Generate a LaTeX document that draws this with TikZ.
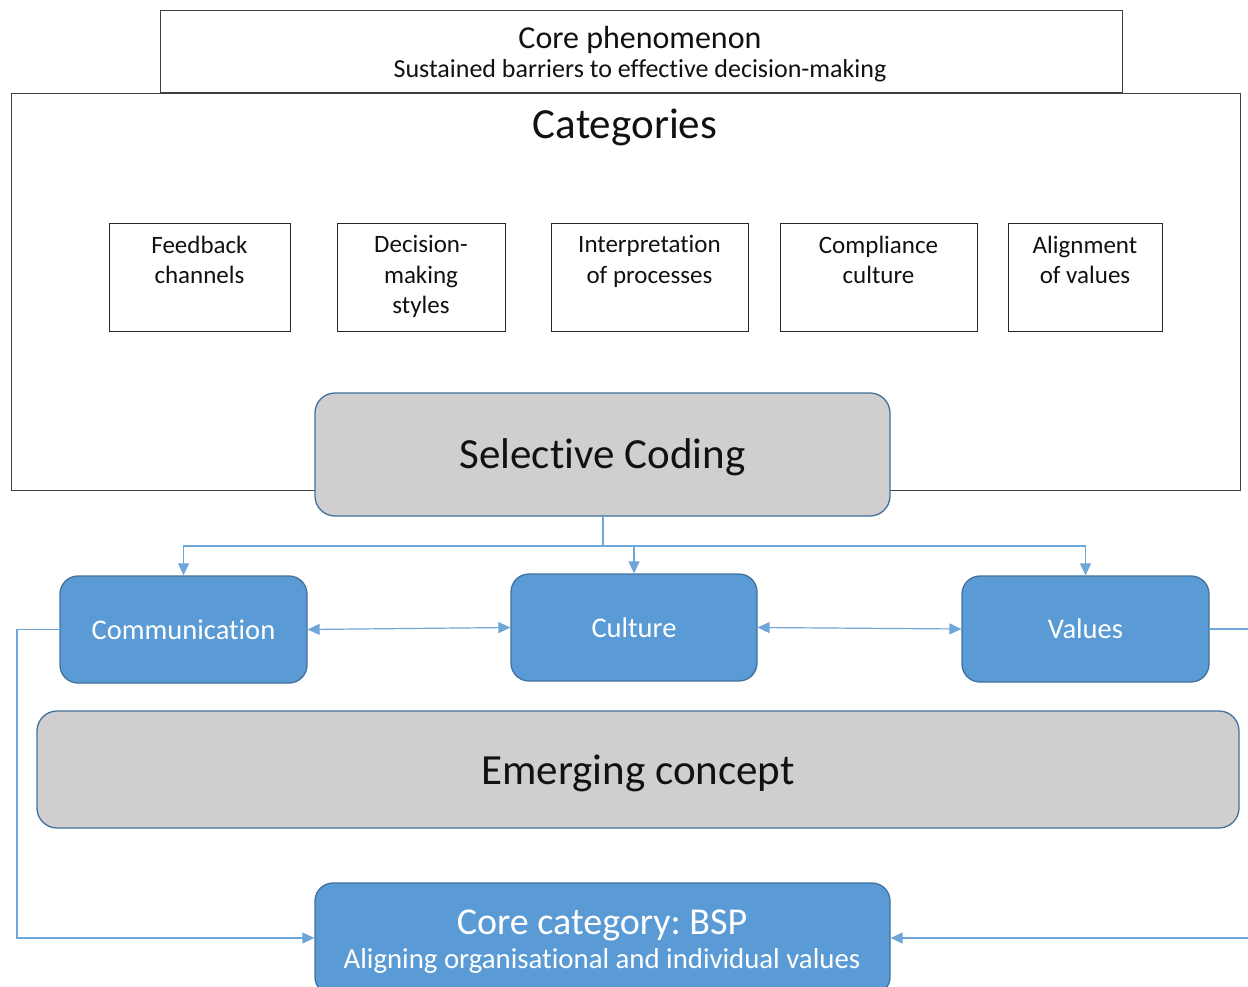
\documentclass[tikz,border=0pt]{standalone}
\usepackage{fontspec}
\setmainfont{Carlito}[Ligatures=NoCommon]
\usetikzlibrary{arrows.meta}
\frenchspacing

\definecolor{boxblue}{HTML}{5B9BD5}
\definecolor{edgeblue}{HTML}{41719C}
\definecolor{linkblue}{HTML}{6FA6DA}
\definecolor{greyfill}{HTML}{D0CECE}
\definecolor{inkdark}{HTML}{111111}

\newcommand{\fsz}[1]{\fontsize{#1}{1.22\dimexpr #1pt\relax}\selectfont}

\tikzset{
  frame/.style={draw=black!75, line width=0.9pt, fill=white, inner sep=0pt},
  catbox/.style={draw=black!85, line width=0.9pt, fill=white, inner sep=0pt},
  cattext/.style={text=inkdark, align=center, inner sep=0pt, font=\fsz{25}},
  greybox/.style={draw=edgeblue, line width=1.3pt, fill=greyfill, rounded corners=20pt,
                  inner sep=0pt},
  bigtext/.style={text=inkdark, inner sep=0pt, font=\fsz{43}},
  bluebox/.style={draw=edgeblue, line width=1.3pt, fill=boxblue, rounded corners=18pt,
                  inner sep=0pt, text=white, font=\fsz{28.5}},
  link/.style={draw=linkblue, line width=1.2pt},
  tip/.style={-{Triangle[length=12pt,width=11pt]}},
  twotip/.style={{Triangle[length=12pt,width=11pt]}-{Triangle[length=12pt,width=11pt]}},
}

\begin{document}
\begin{tikzpicture}[x=1pt, y=-1pt]
\useasboundingbox (0,0) rectangle (1248,987);

% top frame: core phenomenon
\node[frame, minimum width=962pt, minimum height=82pt] (phen) at (641,51) {};
\node[text=inkdark, font=\fsz{32}, inner sep=0pt] (phenT) at (640,39.5) {Core phenomenon};
\node[text=inkdark, font=\fsz{26}, inner sep=0pt] (phenS) at (640,70.5) {Sustained barriers to effective decision-making};

% categories frame
\node[frame, minimum width=1229pt, minimum height=397pt] (cats) at (625.5,291.5) {};
\node[bigtext] (catsT) at (625,127) {Categories};

% the five categories
\node[catbox, minimum width=181pt, minimum height=108pt] (fb) at (199.5,277) {};
\node[catbox, minimum width=168pt, minimum height=108pt] (dm) at (421,277) {};
\node[catbox, minimum width=197pt, minimum height=108pt] (ip) at (649.5,277) {};
\node[catbox, minimum width=197pt, minimum height=108pt] (cc) at (878.5,277) {};
\node[catbox, minimum width=154pt, minimum height=108pt] (av) at (1085,277) {};

\node[cattext, anchor=north] (fbT) at ([yshift=-13pt]fb.north) {Feedback\\channels};
\node[cattext, anchor=north] (dmT) at ([yshift=-13pt]dm.north) {Decision-\\making\\styles};
\node[cattext, anchor=north] (ipT) at ([yshift=-13pt]ip.north) {Interpretation\\of processes};
\node[cattext, anchor=north] (ccT) at ([yshift=-13pt]cc.north) {Compliance\\culture};
\node[cattext, anchor=north] (avT) at ([yshift=-13pt]av.north) {Alignment\\of values};

% selective coding
\node[greybox, minimum width=575pt, minimum height=123pt] (sel) at (602.5,454.5) {};
\node[bigtext] (selT) at (602.5,457.5) {Selective Coding};

% emerging concepts
\node[bluebox, minimum width=247pt, minimum height=107pt] (comm) at (183.5,629.5) {Communication};
\node[bluebox, minimum width=246pt, minimum height=107pt] (cult) at (634,627.5) {Culture};
\node[bluebox, minimum width=247pt, minimum height=106pt] (vals) at (1085.5,629) {Values};

\node[greybox, minimum width=1202pt, minimum height=117pt] (emer) at (638,769.5) {};
\node[bigtext] (emerT) at (638,773.5) {Emerging concept};

% core category
\node[bluebox, minimum width=575pt, minimum height=112pt] (core) at (602.5,939) {};
\node[text=white, font=\fsz{38}, inner sep=0pt] (coreT) at (602,925) {Core category: BSP};
\node[text=white, font=\fsz{28.8}, inner sep=0pt] (coreS) at (602,961) {Aligning organisational and individual values};

% branching from selective coding
\coordinate (hub) at (603,546);
\draw[link] (sel.south -| hub) -- (hub);
\draw[link, tip] (hub) -| (comm.north);
\draw[link, tip] (hub) -| (cult.north);
\draw[link, tip] (hub) -| (vals.north);

% links between the concepts
\draw[link, twotip] (comm.east) -- (cult.west);
\draw[link, twotip] (cult.east) -- (vals.west);

% loops into the core category
\coordinate (lloop) at (17,938);
\draw[link, tip] (comm.west) -- (comm.west -| lloop) -- (lloop) -- (core.west |- lloop);
\coordinate (rtop) at (1262,629);
\coordinate (rbot) at (1262,938);
\draw[link, tip] (vals.east) -- (rtop) -- (rbot) -- (core.east |- rbot);
\end{tikzpicture}
\end{document}
